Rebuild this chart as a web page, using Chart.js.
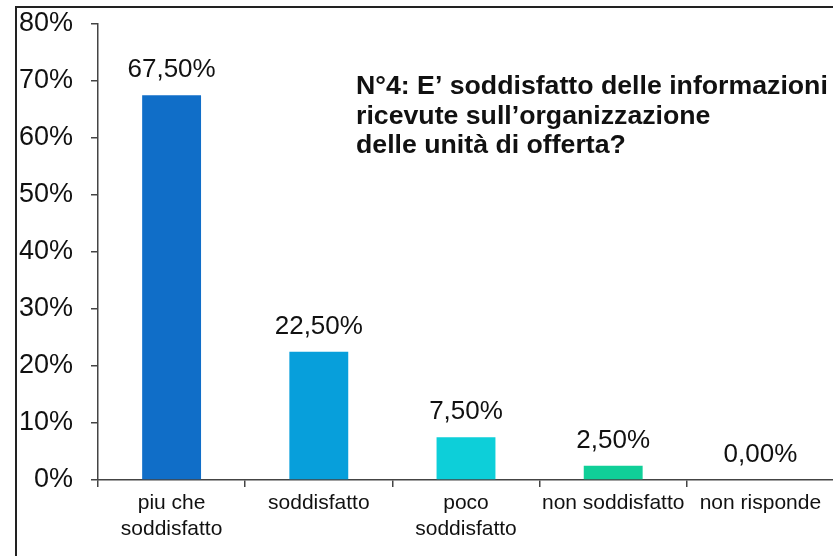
<!DOCTYPE html>
<html><head><meta charset="utf-8">
<script src="https://cdn.jsdelivr.net/npm/chart.js@4/dist/chart.umd.min.js"></script>
<style>
html,body{margin:0;padding:0;background:#fff;overflow:hidden;width:833px;height:556px;}
#frame{position:absolute;left:15px;top:6px;width:830px;height:560px;border-left:2px solid #222;border-top:2px solid #222;}
#wrap{position:absolute;left:0;top:0;width:840px;height:556px;}
</style></head><body>
<div id="frame"></div>
<div id="wrap"><canvas id="c" width="840" height="556"></canvas></div>
<script>
const categories = [["piu che","soddisfatto"],"soddisfatto",["poco","soddisfatto"],"non soddisfatto","non risponde"];
const values = [67.5, 22.5, 7.5, 2.5, 0];
const valueLabels = ["67,50%","22,50%","7,50%","2,50%","0,00%"];
const barColors = ["#106EC8","#079FDB","#0DCFD9","#10CF98","#10CF98"];
const titleLines = ["N°4: E’ soddisfatto delle informazioni","ricevute sull’organizzazione","delle unità di offerta?"];
const yMax = 80, yStep = 10;

const FONT = "'Liberation Sans', Arial, sans-serif";

const labelPlugin = {
  id:'labels',
  afterDatasetsDraw(chart){
    const ctx = chart.ctx;
    const meta = chart.getDatasetMeta(0);
    ctx.save();
    ctx.font = "26px " + FONT;
    ctx.fillStyle = "#111";
    ctx.textAlign = "center";
    ctx.textBaseline = "alphabetic";
    meta.data.forEach((bar,i)=>{
      ctx.fillText(valueLabels[i], bar.x, bar.y - 18);
    });
    ctx.font = "bold 26.7px " + FONT;
    ctx.textAlign = "left";
    const baselines = [94, 124, 153];
    titleLines.forEach((t,i)=>{
      ctx.fillText(t, 356, baselines[i]);
    });
    ctx.restore();
  }
};

new Chart(document.getElementById('c'), {
  type:'bar',
  data:{ labels:categories, datasets:[{ data:values, backgroundColor:barColors, barPercentage:0.4, categoryPercentage:1.0 }]},
  options:{
    responsive:false, animation:false,
    layout:{padding:{left:0,right:6,top:0,bottom:0}},
    plugins:{legend:{display:false}, tooltip:{enabled:false}},
    scales:{
      x:{
        offset:true,
        grid:{display:true, drawOnChartArea:false, drawTicks:true, tickLength:7, color:"#444", lineWidth:1.5, offset:true},
        border:{display:true, color:"#444", width:1.5},
        ticks:{font:{size:21, family:FONT}, color:"#111", padding:4, maxRotation:0, autoSkip:false},
        afterFit(s){ s.height = 76; }
      },
      y:{
        min:0, max:yMax,
        ticks:{stepSize:yStep, font:{size:27, family:FONT}, color:"#111", padding:18, callback:v=>v+"%"},
        grid:{display:true, drawOnChartArea:false, drawTicks:true, tickLength:7, color:"#444", lineWidth:1.5},
        border:{display:true, color:"#444", width:1.5},
        afterFit(s){ s.width = 98; s.paddingTop = 24; s.paddingBottom = 0; }
      }
    }
  },
  plugins:[labelPlugin]
});
</script>
</body></html>
